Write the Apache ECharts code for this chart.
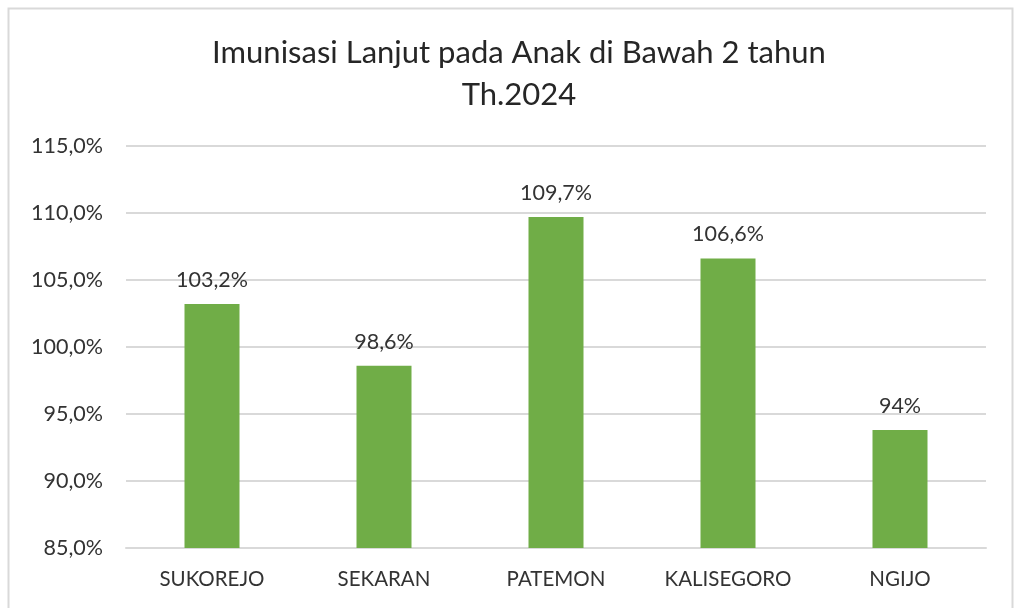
<!DOCTYPE html>
<html>
<head>
<meta charset="utf-8">
<script src="https://cdn.jsdelivr.net/npm/echarts@6/dist/echarts.min.js"></script>
<style>
html,body{margin:0;padding:0;background:#fff;}
#chart{width:1015px;height:608px;}
</style>
</head>
<body>
<div id="chart"></div>
<script>
const titleLines = ['Imunisasi Lanjut pada Anak di Bawah 2 tahun', 'Th.2024'];
const categories = ['SUKOREJO', 'SEKARAN', 'PATEMON', 'KALISEGORO', 'NGIJO'];
const values = [103.2, 98.6, 109.7, 106.6, 93.8];
const valueLabels = ['103,2%', '98,6%', '109,7%', '106,6%', '94%'];
const yTicks = [85, 90, 95, 100, 105, 110, 115];

const FONT = 'Lato, "Open Sans", sans-serif';
const chart = echarts.init(document.getElementById('chart'));
chart.setOption({
  animation: false,
  backgroundColor: '#ffffff',
  graphic: [{
    type: 'rect',
    shape: { x: 8.5, y: 8.5, width: 1004, height: 640 },
    style: { fill: 'none', stroke: '#d9d9d9', lineWidth: 2 },
    silent: true
  }],
  title: {
    text: titleLines.join('\n'),
    left: 514,
    textAlign: 'center',
    top: 27,
    textStyle: {
      fontFamily: FONT, fontSize: 31, fontWeight: 'normal',
      color: '#262626', lineHeight: 42
    }
  },
  grid: { left: 126, right: 29, top: 146, bottom: 60, containLabel: false },
  xAxis: {
    type: 'category',
    data: categories,
    axisLine: { show: true, lineStyle: { color: '#d9d9d9', width: 2 } },
    axisTick: { show: false },
    axisLabel: { fontFamily: FONT, fontSize: 20.5, color: '#333333', margin: 21 }
  },
  yAxis: {
    type: 'value',
    min: yTicks[0],
    max: yTicks[yTicks.length - 1],
    interval: 5,
    axisLine: { show: false },
    axisTick: { show: false },
    splitLine: { lineStyle: { color: '#d9d9d9', width: 2 } },
    axisLabel: {
      fontFamily: FONT, fontSize: 21.5, color: '#333333', margin: 23,
      formatter: v => v.toFixed(1).replace('.', ',') + '%'
    }
  },
  series: [{
    type: 'bar',
    data: values,
    barWidth: 55,
    itemStyle: { color: '#70ad47' },
    label: {
      show: true,
      position: 'top',
      distance: 13,
      fontFamily: FONT, fontSize: 21.5, color: '#333333',
      formatter: p => valueLabels[p.dataIndex]
    }
  }]
});
</script>
</body>
</html>
